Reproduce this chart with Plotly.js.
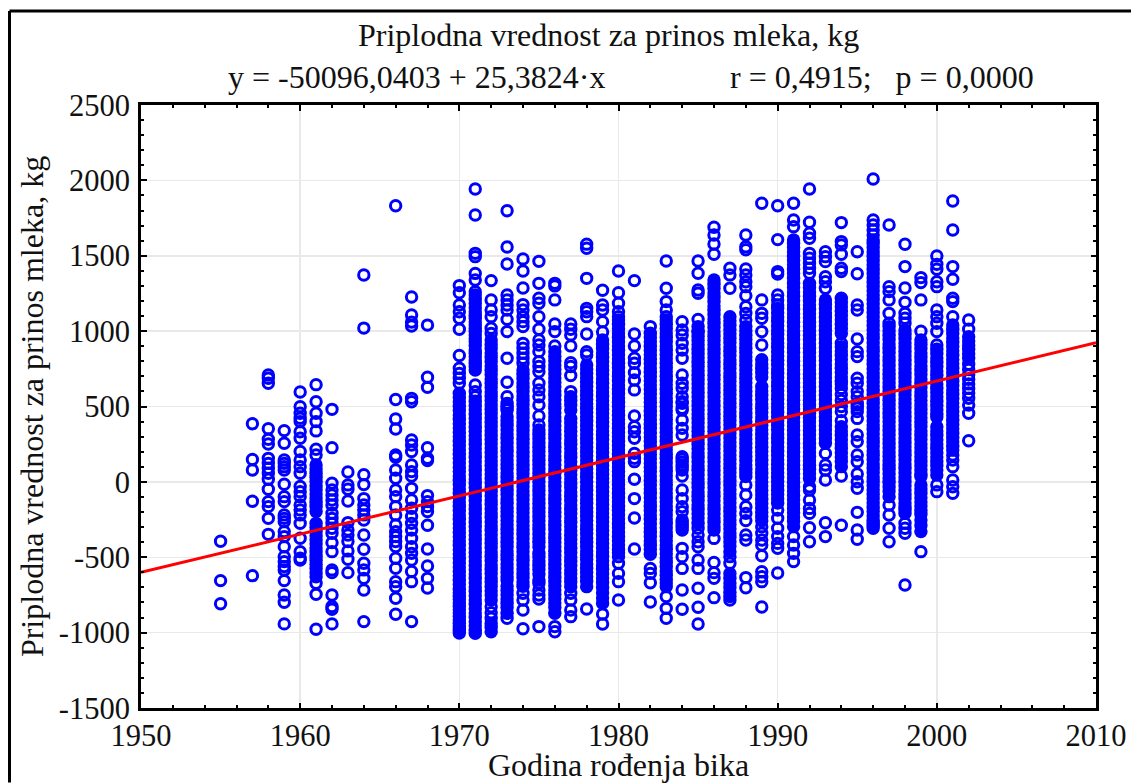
<!DOCTYPE html>
<html><head><meta charset="utf-8">
<script src="https://cdn.plot.ly/plotly-3.0.1.min.js"></script>
<style>html,body{margin:0;padding:0;background:#fff}#c{width:1131px;height:783px}</style>
</head><body><div id="c"></div><script>
const titleLine = "Priplodna vrednost za prinos mleka, kg";
const equationText = "y = -50096,0403 + 25,3824·x";
const statsText = "r = 0,4915;   p = 0,0000";
const xTitle = "Godina rođenja bika";
const yTitle = "Priplodna vrednost za prinos mleka, kg";
const yTickVals = [-1500,-1000,-500,0,500,1000,1500,2000,2500];
const yTickText = ["-1500","-1000","-500","0","500","1000","1500","2000","2500"];
const xTickVals = [1950,1960,1970,1980,1990,2000,2010];
const xTickText = ["1950","1960","1970","1980","1990","2000","2010"];
const fitX = [1950, 2010];
const fitY = [-600.4, 922.6];
// r = separately readable points, d = points in the merged solid part of a column
const r1955=[-394,-655,-808];
const r1957=[386,148,79,-129,-622];
const r1958=[709,687,654,353,282,251,156,123,90,57,17,-49,-131,-164,-242,-348];
const r1959=[340,256,145,123,101,79,-16,-98,-131,-219,-242,-264,-330,-363,-430,-496,-529,-562,-584,-655,-750,-799,-942];
const r1960=[596,499,455,422,400,333,289,201,145,101,57,-31,-65,-98,-153,-186,-219,-275,-374,-463,-507,-518];
const r1961=[645,532,455,400,338,216,179,-673,-746,-978];
const d1961=[112,85,58,30,3,-25,-52,-80,-107,-135,-162,-197,-275,-302,-329,-357,-384,-411,-438,-466,-493,-520,-548,-575,-602,-630];
const r1962=[481,227,-9,-54,-87,-120,-153,-208,-242,-275,-308,-341,-403,-463,-584,-602,-750,-827,-845,-942];
const r1963=[66,-20,-49,-127,-270,-319,-352,-396,-458,-513,-602];
const r1964=[1372,1020,48,-18,-111,-153,-186,-219,-253,-352,-447,-540,-584,-640,-717,-927];
const r1966=[1832,546,417,351,178,163,79,24,-54,-98,-164,-219,-286,-330,-363,-396,-429,-507,-573,-662,-695,-772,-878];
const r1967=[1226,1107,1060,1034,554,532,278,245,201,112,68,39,-43,-120,-175,-230,-275,-319,-374,-430,-474,-518,-595,-662,-927];
const r1968=[1040,694,627,227,156,141,-91,-131,-164,-197,-288,-445,-558,-640,-704];
const r1970=[1302,1255,1173,1129,1085,1012,838,754,720,687,654];
const d1970=[588,560,531,502,474,443,415,386,358,327,299,270,241,213,184,155,127,96,68,39,11,-18,-47,-76,-104,-133,-162,-191,-220,-248,-277,-306,-335,-364,-392,-421,-450,-479,-508,-536,-565,-594,-623,-652,-680,-712,-735,-758,-780,-802,-825,-848,-870,-893,-915,-938,-960,-975,-990,-1003];
const r1971=[1943,1770,1516,1494,1383,1339,1262,643,599,565];
const d1971=[1240,1212,1184,1155,1129,1105,1085,1060,1041,1018,997,975,950,930,905,875,853,830,809,787,765,742,535,507,478,449,421,392,363,335,306,277,249,220,191,163,134,105,77,48,19,-9,-38,-67,-95,-124,-153,-181,-210,-239,-267,-296,-325,-353,-382,-411,-439,-468,-497,-525,-554,-583,-611,-640,-669,-697,-726,-755,-783,-812,-841,-869,-898,-927,-955,-984,-1005];
const r1972=[1335,1207,1140,1096,1019,985,-828,-868,-905];
const d1972=[941,912,884,855,826,798,769,740,712,683,654,626,597,568,540,511,482,453,425,396,367,339,310,281,253,224,195,166,138,109,80,52,23,-6,-34,-63,-92,-120,-149,-178,-206,-235,-264,-292,-321,-350,-379,-407,-436,-465,-493,-522,-551,-579,-608,-637,-665,-694,-723,-751,-784,-940,-965,-994];
const r1973=[1799,1558,1445,1240,1207,1173,1140,1078,997,820,661,565,521,505,488,477,-690,-905];
const d1973=[432,403,375,346,317,289,260,231,203,174,145,116,88,59,30,2,-27,-56,-84,-113,-142,-171,-199,-228,-257,-285,-314,-343,-371,-400,-429,-458,-486,-515,-544,-572,-601,-630,-651,-720,-748,-777,-805,-834,-872];
const r1974=[1479,1399,1286,1176,1140,1096,1063,1030,919,886,853,820,787,-739,-784,-850,-974];
const d1974=[742,714,685,656,628,599,570,541,513,484,455,427,398,369,341,312,283,254,226,197,168,140,111,82,54,25,-4,-33,-61,-90,-119,-147,-176,-205,-233,-262,-291,-320,-348,-377,-406,-434,-463,-492,-520,-549,-578,-607,-635,-664,-693];
const r1975=[1463,1317,1218,1185,1096,1012,941,908,864,798,765,731,654,610,565,510,437,377,-673,-717,-750,-777,-960];
const d1975=[344,316,288,259,230,202,173,144,116,87,58,29,1,-28,-57,-85,-114,-143,-172,-200,-229,-258,-286,-315,-344,-372,-401,-430,-474,-496,-525,-553,-582,-611,-651];
const r1976=[1317,1300,1207,1048,997,902,-960,-994];
const d1976=[864,831,803,775,746,717,689,660,631,603,574,545,516,488,459,430,402,373,344,315,287,258,229,201,172,143,114,86,57,28,0,-29,-58,-87,-115,-144,-173,-201,-230,-259,-287,-316,-345,-374,-402,-431,-460,-488,-517,-546,-575,-603,-632,-661,-689,-718,-747,-775,-804,-833,-872];
const r1977=[1048,1012,975,902,791,765,705,599,-739,-784,-850,-894];
const d1977=[565,540,512,477,421,392,364,335,306,278,249,220,191,163,134,105,77,48,19,-10,-38,-67,-96,-124,-153,-182,-210,-239,-268,-297,-325,-354,-383,-411,-440,-469,-498,-526,-555,-585,-610,-638,-665,-695];
const r1978=[1577,1550,1350,1151,1129,1096,981,864,842,-843];
const d1978=[776,748,719,690,661,633,604,575,547,518,489,461,432,403,374,346,317,288,260,231,202,173,145,116,87,59,30,1,-27,-56,-85,-114,-142,-171,-200,-228,-257,-286,-314,-343,-372,-401,-429,-458,-487,-515,-544,-573,-601,-630,-659,-695];
const r1979=[1271,1173,1140,1063,994,-877,-943];
const d1979=[941,913,884,855,826,798,769,740,712,683,654,625,597,568,539,511,482,453,425,396,367,338,310,281,252,224,195,166,137,109,80,51,23,-6,-35,-64,-92,-121,-150,-178,-207,-236,-264,-293,-322,-351,-379,-408,-437,-465,-494,-523,-552,-580,-609,-638,-668,-700,-735,-770,-806];
const r1980=[1399,1255,1185,1129,1096,-496,-540,-607,-662,-784];
const d1980=[1074,1045,1016,988,959,930,902,873,844,815,787,758,729,701,672,643,614,586,557,528,500,471,442,413,385,356,327,299,270,241,213,184,155,126,98,69,40,12,-17,-46,-75,-103,-132,-161,-189,-218,-247,-276,-304,-333,-362,-390,-419,-448,-470];
const r1981=[1335,981,902,820,787,725,676,610,437,366,333,289,189,156,134,17,-111,-240,-445];
const r1982=[1030,-574,-607,-669,-797];
const d1982=[986,957,929,900,871,843,814,785,756,728,699,670,642,613,584,556,527,498,469,441,412,383,355,326,297,268,240,211,182,154,125,96,68,39,10,-19,-47,-76,-105,-133,-162,-191,-219,-248,-277,-306,-334,-363,-392,-420,-449,-480];
const r1983=[1465,1284,1196,1140,1096,-761,-839,-905];
const d1983=[1074,1045,1017,988,959,931,902,873,845,816,787,758,730,701,672,644,615,586,557,529,500,471,443,414,385,357,328,299,270,242,213,184,156,127,98,70,41,12,-17,-45,-74,-103,-131,-160,-189,-218,-246,-275,-304,-332,-361,-390,-418,-447,-476,-505,-533,-562,-591,-619,-648,-670,-695];
const r1984=[1063,1008,975,919,875,820,709,654,621,565,532,521,488,477,410,355,311,167,150,130,112,95,79,39,-54,-111,-165,-198,-253,-270,-286,-303,-319,-441,-496,-574,-717,-845];
const r1985=[1465,1384,1273,1251,1078,997,-308,-352,-397,-430,-518,-574,-706,-832,-943];
const d1985=[1030,998,966,938,909,880,852,823,794,766,737,708,679,651,622,593,565,536,507,478,450,421,392,364,335,306,278,249,220,191,163,134,105,77,48,19,-10,-38,-67,-96,-124,-153,-182,-211,-239,-275];
const r1986=[1689,1638,1578,1510,-375,-534,-602,-640,-768];
const d1986=[1339,1311,1282,1253,1225,1196,1167,1139,1110,1081,1052,1024,995,966,938,909,880,851,823,794,765,737,708,679,650,622,593,564,536,507,478,449,421,392,363,335,306,277,248,220,191,162,134,105,76,47,19,-10,-39,-67,-96,-125,-153,-182,-211,-240,-268,-297,-319];
const r1987=[1417,1373,1284,-496,-540,-784];
const d1987=[1096,1068,1039,1010,982,953,924,895,867,838,809,781,752,723,694,666,637,608,580,551,522,493,465,436,407,379,350,321,292,264,235,206,178,149,120,91,63,34,5,-23,-52,-81,-110,-138,-167,-196,-224,-253,-282,-311,-339,-368,-397,-425,-463,-607,-640,-670,-700,-733,-761];
const r1988=[1638,1560,1540,1412,1373,1328,1295,1235,1162,1118,1074,-20,-87,-165,-209,-257,-352,-386,-635,-702];
const d1988=[1030,1002,973,944,916,887,858,830,801,772,743,715,686,657,629,600,571,543,514,485,456,428,399,370,342,313,284,255,227,198,169,141,112,83,60,35];
const r1989=[1848,1207,1118,1085,997,908,-297,-341,-386,-419,-490,-596,-629,-662,-830];
const d1989=[810,782,754,725,695,632,603,575,546,517,488,460,431,402,374,345,316,287,259,230,201,173,144,115,86,58,29,0,-28,-57,-86,-115,-143,-172,-201,-229,-258];
const r1990=[1832,1607,1395,1379,1240,1207,1173,-187,-242,-308,-363,-408,-441,-604];
const d1990=[1151,1122,1094,1065,1036,1007,979,950,921,893,864,835,806,778,749,720,692,663,634,605,577,548,519,491,462,433,404,376,347,318,290,261,232,203,175,146,117,89,60,31,2,-26,-55,-84,-112,-141];
const r1991=[1848,1737,1693,-363,-419,-474,-529];
const d1991=[1605,1583,1555,1526,1497,1469,1440,1411,1382,1350,1317,1289,1260,1231,1202,1174,1145,1116,1088,1059,1030,1001,973,944,915,887,858,829,800,772,743,714,686,657,628,599,571,542,513,485,456,427,398,370,341,312,284,255,226,197,169,140,111,83,54,25,-4,-32,-61,-90,-118,-147,-176,-205,-233,-262,-297];
const r1992=[1943,1722,1649,1616,1516,1483,1450,1417,1384,-32,-54,-120,-176,-209,-304,-397];
const d1992=[1317,1289,1260,1231,1203,1174,1145,1116,1088,1059,1030,1002,973,944,915,887,858,829,801,772,743,714,686,657,628,600,571,542,513,485,456,427,399,370,341,312,284,255,226,198,169,140,111,83,54,23];
const r1993=[1527,1494,1461,1361,1328,1284,189,112,79,12,-271,-363];
const d1993=[1207,1178,1150,1121,1092,1064,1035,1006,977,949,920,891,863,834,805,776,748,719,690,662,633,604,575,547,518,489,461,432,403,374,346,317,288,256];
const r1994=[1720,1594,1572,1510,1417,1395,919,620,580,540,500,466,406,39,-288];
const d1994=[1218,1190,1161,1132,1103,1075,1046,1017,985,897,868,840,811,782,753,725,696,667,650,366,337,309,280,251,223,194,165,136,101];
const r1995=[1527,1381,1173,1140,948,864,831,687,654,599,565,521,510,488,466,421,311,267,178,134,52,1,-43,-202,-319,-381];
const r1996=[2009,1737,1704,1671,1638,-308];
const d1996=[1605,1583,1555,1526,1497,1469,1440,1411,1383,1354,1325,1296,1268,1239,1210,1182,1153,1124,1095,1067,1038,1009,981,952,923,894,866,837,808,780,751,722,693,665,636,607,579,550,521,492,464,435,406,378,349,320,291,263,234,205,177,148,119,90,62,33,4,-24,-53,-82,-111,-139,-168,-197,-225,-254,-275,-290];
const r1997=[1704,1295,1262,1207,1118,1052,-154,-220,-308,-397];
const d1997=[1030,1002,973,944,915,887,858,829,801,772,743,714,686,657,628,600,571,542,513,485,456,427,399,370,341,312,284,255,226,198,169,140,111,83,54,25,-3,-32,-61,-98];
const r1998=[1576,1428,1286,1191,1118,1085,1052,-275,-308,-341,-684];
const d1998=[1008,980,951,922,894,865,836,807,779,750,721,693,664,635,606,578,549,520,492,463,434,405,377,348,319,291,262,233,204,176,147,118,90,61,32,3,-25,-54,-83,-111,-140,-169,-187,-209];
const r1999=[1355,1322,1207,999,-463];
const d1999=[941,913,884,855,827,798,769,740,712,683,654,626,597,568,539,511,482,453,425,396,367,338,310,281,252,224,195,166,137,109,80,51,35,-20,-48,-76,-105,-133,-160,-190,-215,-253,-290,-330];
const r2000=[1499,1443,1410,1328,1295,1140,1096,1052,997,908,-20,-65];
const d2000=[880,851,822,794,765,736,707,679,650,621,593,564,535,506,478,449,430,366,337,309,280,251,223,194,165,136,108,79,45];
const r2001=[1863,1671,1428,1344,1218,1196,1096,178,145,101,12,-32,-76];
const d2001=[1041,1012,984,955,926,898,869,840,811,783,754,725,697,668,639,610,582,553,524,496,467,438,409,381,352,323,295,266,237,211];
const r2002=[1074,1012,780,745,710,680,650,620,590,555,510,455,273];
const d2002=[963,935,905,880,850,820];
const ringTable=[[1955,r1955],[1957,r1957],[1958,r1958],[1959,r1959],[1960,r1960],[1961,r1961],[1962,r1962],[1963,r1963],[1964,r1964],[1966,r1966],[1967,r1967],[1968,r1968],[1970,r1970],[1971,r1971],[1972,r1972],[1973,r1973],[1974,r1974],[1975,r1975],[1976,r1976],[1977,r1977],[1978,r1978],[1979,r1979],[1980,r1980],[1981,r1981],[1982,r1982],[1983,r1983],[1984,r1984],[1985,r1985],[1986,r1986],[1987,r1987],[1988,r1988],[1989,r1989],[1990,r1990],[1991,r1991],[1992,r1992],[1993,r1993],[1994,r1994],[1995,r1995],[1996,r1996],[1997,r1997],[1998,r1998],[1999,r1999],[2000,r2000],[2001,r2001],[2002,r2002]];
const denseTable=[[1961,d1961],[1970,d1970],[1971,d1971],[1972,d1972],[1973,d1973],[1974,d1974],[1975,d1975],[1976,d1976],[1977,d1977],[1978,d1978],[1979,d1979],[1980,d1980],[1982,d1982],[1983,d1983],[1985,d1985],[1986,d1986],[1987,d1987],[1988,d1988],[1989,d1989],[1990,d1990],[1991,d1991],[1992,d1992],[1993,d1993],[1994,d1994],[1996,d1996],[1997,d1997],[1998,d1998],[1999,d1999],[2000,d2000],[2001,d2001],[2002,d2002]];
const flat=t=>{const X=[],Y=[];t.forEach(([yr,vals])=>vals.forEach(v=>{X.push(yr);Y.push(v);}));return {X,Y};};
const rings=flat(ringTable), dense=flat(denseTable);

const serif = "Liberation Serif, Times New Roman, serif";
const ink = "#111111";
const W=1131,H=783,L=141,R=1096,T=105,B=708.5;
const px=p=>(p-L)/(R-L), py=p=>(B-p)/(B-T);
const axisCommon = {
  showline:true, mirror:"ticks", linecolor:"#000", linewidth:3,
  ticks:"inside", ticklen:5.5, tickwidth:2, tickcolor:"#000",
  showgrid:true, gridcolor:"#e9e9e9", gridwidth:1.5, zeroline:false,
  tickfont:{family:serif,size:30.5,color:ink}
};
Plotly.newPlot("c",[
  {type:"scatter",mode:"markers",x:dense.X,y:dense.Y,hoverinfo:"skip",
   marker:{symbol:"circle",size:13.4,color:"#0000ff",line:{width:0}}},
  {type:"scatter",mode:"markers",x:rings.X,y:rings.Y,hoverinfo:"skip",
   marker:{symbol:"circle-open",size:10.4,color:"#0000ff",line:{color:"#0000ff",width:3}}},
  {type:"scatter",mode:"lines",x:fitX,y:fitY,hoverinfo:"skip",line:{color:"#ff0000",width:3}}
],{
  width:W,height:H,showlegend:false,paper_bgcolor:"#fff",plot_bgcolor:"#fff",
  margin:{l:L,t:T,r:W-R,b:H-B,pad:0},
  xaxis:Object.assign({},axisCommon,{range:[1950,2010],tickmode:"array",tickvals:xTickVals,ticktext:xTickText,ticklabelstandoff:-2,
    minor:{dtick:2,ticks:"inside",ticklen:3,tickwidth:2,tickcolor:"#000",showgrid:false},
    title:{text:xTitle,standoff:2,font:{family:serif,size:32,color:ink}}}),
  yaxis:Object.assign({},axisCommon,{range:[-1500,2500],tickmode:"array",tickvals:yTickVals,ticktext:yTickText,ticklabelstandoff:2,
    minor:{dtick:100,ticks:"inside",ticklen:3,tickwidth:2,tickcolor:"#000",showgrid:false},
    title:{text:yTitle,standoff:6,font:{family:serif,size:32,color:ink}}}),
  annotations:[
    {xref:"paper",yref:"paper",x:px(608.5),y:py(35),text:titleLine,showarrow:false,xanchor:"center",yanchor:"middle",font:{family:serif,size:32,color:ink}},
    {xref:"paper",yref:"paper",x:px(416.5),y:py(77),text:equationText,showarrow:false,xanchor:"center",yanchor:"middle",font:{family:serif,size:32,color:ink}},
    {xref:"paper",yref:"paper",x:px(881.5),y:py(77),text:statsText.replace(/ {3}/,"\u00a0\u00a0\u00a0"),showarrow:false,xanchor:"center",yanchor:"middle",font:{family:serif,size:32,color:ink}}
  ],
  shapes:[
    {type:"line",xref:"paper",yref:"paper",x0:px(9.5),x1:px(1131),y0:py(11),y1:py(11),line:{color:"#000",width:3}},
    {type:"line",xref:"paper",yref:"paper",x0:px(9.5),x1:px(9.5),y0:py(11),y1:py(783),line:{color:"#000",width:3}}
  ]
},{displayModeBar:false,staticPlot:true});
</script></body></html>
